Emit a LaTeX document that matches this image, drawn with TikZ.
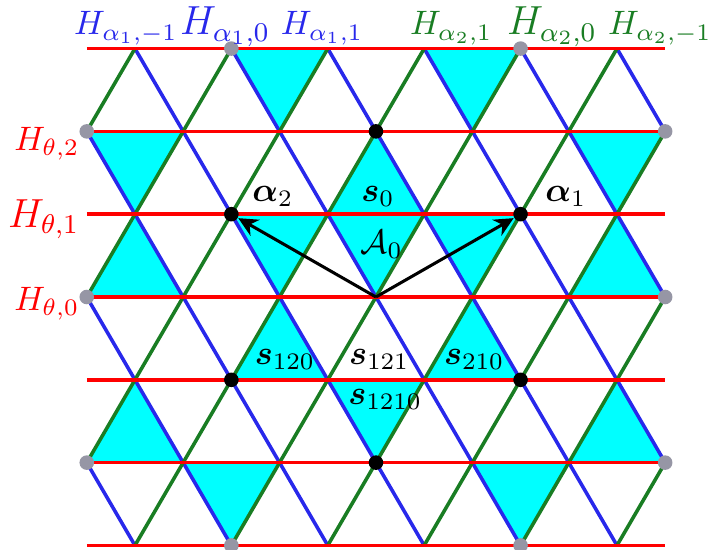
\documentclass[tikz,border=0pt]{standalone}
\usepackage{amsmath,amssymb}
\usepackage{xcolor}
\usetikzlibrary{arrows.meta}

\definecolor{hblue}{RGB}{40,40,235}
\definecolor{hgreen}{RGB}{25,125,35}
\definecolor{hred}{RGB}{255,0,0}
\definecolor{alc}{RGB}{0,255,255}
\definecolor{dotgray}{RGB}{150,150,165}

\begin{document}
\begin{tikzpicture}[
  x=5mm, y=8.59mm,
  alcove/.style={fill=alc},
  bline/.style={hblue,line width=1.05pt},
  gline/.style={hgreen,line width=1.05pt},
  rline/.style={hred,line width=1.05pt},
  gdot/.style={circle,fill=dotgray,inner sep=0pt,minimum size=4.3pt},
  bdot/.style={circle,fill=black,inner sep=0pt,minimum size=4.3pt},
  vec/.style={-{Stealth[length=2mm,width=1.9mm]},line width=0.9pt},
  lbl/.style={inner sep=0pt},
  hb/.style={lbl,text=hblue,anchor=base},
  hg/.style={lbl,text=hgreen,anchor=base},
  hr/.style={lbl,text=hred,anchor=base east}
]
\useasboundingbox (-3.900cm,-2.614cm) rectangle (3.465cm,3.081cm);

%% ---- shaded alcoves -------------------------------------------------------
% down triangles, given by their bottom corner
\foreach \m/\k in {-2/2, 2/2, -5/1, 5/1, -2/0, 0/0, 2/0, 0/-2, -3/-3, 3/-3}
  \fill[alcove] (\m-1,\k+1) -- (\m+1,\k+1) -- (\m,\k) -- cycle;
% up triangles, given by their apex
\foreach \m/\k in {0/2, -5/1, 5/1, -2/0, 2/0, -5/-1, 5/-1}
  \fill[alcove] (\m,\k) -- (\m-1,\k-1) -- (\m+1,\k-1) -- cycle;

%% ---- hyperplanes ----------------------------------------------------------
\foreach \d in {-8,-6,...,8} {
  \pgfmathsetmacro\ka{max(-3,\d-6)}
  \pgfmathsetmacro\kb{min(3,\d+6)}
  \draw[bline] ({\d-\ka},\ka) -- ({\d-\kb},\kb);
}
\foreach \c in {-8,-6,...,8} {
  \pgfmathsetmacro\ka{max(-3,-6-\c)}
  \pgfmathsetmacro\kb{min(3,6-\c)}
  \draw[gline] ({\c+\ka},\ka) -- ({\c+\kb},\kb);
}
\foreach \k in {-3,...,3} \draw[rline] (-6,\k) -- (6,\k);

%% ---- lattice points -------------------------------------------------------
\foreach \m/\k/\n in {-3/3/ga, 3/3/gb, -6/2/gc, 6/2/gd, -6/0/ge, 6/0/gf,
                      -6/-2/gg, 6/-2/gh, -3/-3/gi, 3/-3/gj}
  \node[gdot] (\n) at (\m,\k) {};
\foreach \m/\k/\n in {0/2/top, -3/1/a2, 3/1/a1, -3/-1/bl, 3/-1/br, 0/-2/bot}
  \node[bdot] (\n) at (\m,\k) {};
\coordinate (o) at (0,0);

\draw[vec] (o) -- (a1);
\draw[vec] (o) -- (a2);

%% ---- labels ---------------------------------------------------------------
\node[lbl] (la2)   at (-2.14,1.21)  {$\boldsymbol{\alpha}_2$};
\node[lbl] (la1)   at (3.94,1.21)   {$\boldsymbol{\alpha}_1$};
\node[lbl] (ls0)   at (0.04,1.21)   {$\boldsymbol{s}_0$};
\node[lbl] (lA0)   at (0.12,0.64)   {$\mathcal{A}_0$};
\node[lbl] (ls120) at (-1.89,-0.75) {$\boldsymbol{s}_{120}$};
\node[lbl] (ls121) at (0.07,-0.75)  {$\boldsymbol{s}_{121}$};
\node[lbl] (ls210) at (2.04,-0.75)  {$\boldsymbol{s}_{210}$};
\node[lbl] (ls1210) at (0.19,-1.24) {$\boldsymbol{s}_{1210}$};

\node[hb] (h1m) at (-5.19,3.164) {$H_{\alpha_1,-1}$};
\node[hb,font=\large] (h10) at (-3.13,3.164) {$H_{\alpha_1,0}$};
\node[hb] (h11) at (-1.12,3.164) {$H_{\alpha_1,1}$};
\node[hg] (h21) at (1.56,3.164)  {$H_{\alpha_2,1}$};
\node[hg,font=\large] (h20) at (3.65,3.164) {$H_{\alpha_2,0}$};
\node[hg] (h2m) at (5.89,3.164)  {$H_{\alpha_2,-1}$};

\node[hr] (ht2) at (-6.14,1.775)  {$H_{\theta,2}$};
\node[hr,font=\large] (ht1) at (-6.14,0.845) {$H_{\theta,1}$};
\node[hr] (ht0) at (-6.14,-0.157) {$H_{\theta,0}$};
\end{tikzpicture}
\end{document}
